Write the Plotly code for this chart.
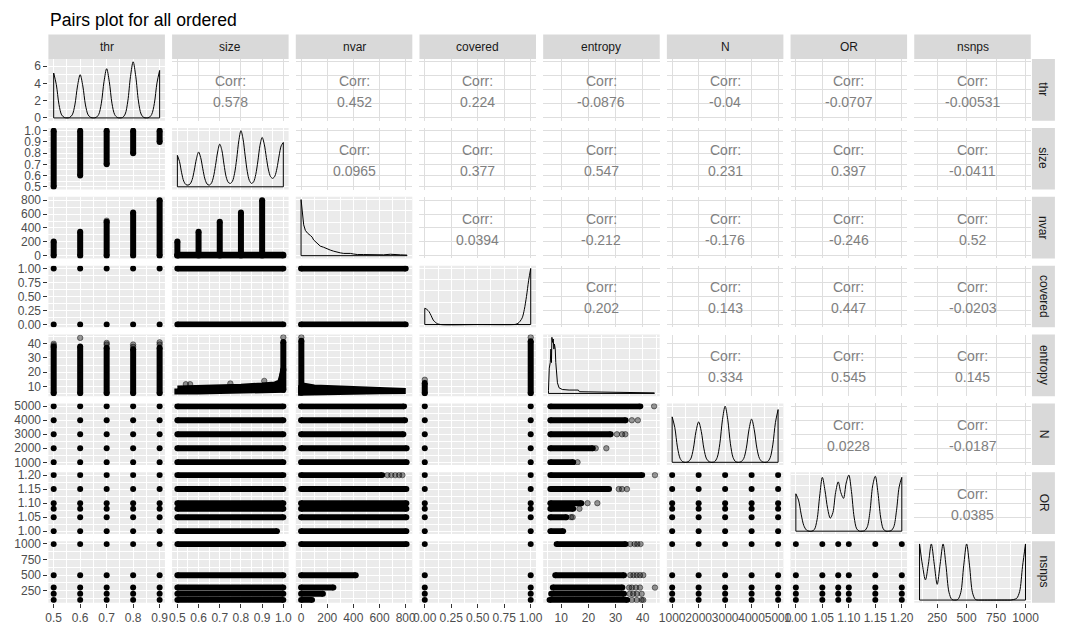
import plotly.graph_objects as go

W, H = 1071, 634
FONT = "Liberation Sans, Arial, sans-serif"

VARS = ["thr", "size", "nvar", "covered", "entropy", "N", "OR", "nsnps"]

# ---------------- discrete levels ----------------
thr_vals = [0.5, 0.6, 0.7, 0.8, 0.9]
covered_vals = [0, 1]
N_vals = [1000, 2000, 3000, 4000, 5000]
OR_vals = [1.00, 1.05, 1.08, 1.10, 1.15, 1.20]
nsnps_vals = [100, 200, 300, 500, 1000]

data_min = [0.5, 0.5, 0, 0, 5.3, 1000, 1.0, 100]
data_max = [0.9, 1.0, 810, 1, 44.3, 5000, 1.2, 1000]

major_ticks = [
    [0.5, 0.6, 0.7, 0.8, 0.9],
    [0.5, 0.6, 0.7, 0.8, 0.9, 1.0],
    [0, 200, 400, 600, 800],
    [0, 0.25, 0.5, 0.75, 1.0],
    [10, 20, 30, 40],
    [1000, 2000, 3000, 4000, 5000],
    [1.0, 1.05, 1.1, 1.15, 1.2],
    [250, 500, 750, 1000],
]
tick_labels = [
    ["0.5", "0.6", "0.7", "0.8", "0.9"],
    ["0.5", "0.6", "0.7", "0.8", "0.9", "1.0"],
    ["0", "200", "400", "600", "800"],
    ["0.00", "0.25", "0.50", "0.75", "1.00"],
    ["10", "20", "30", "40"],
    ["1000", "2000", "3000", "4000", "5000"],
    ["1.00", "1.05", "1.10", "1.15", "1.20"],
    ["250", "500", "750", "1000"],
]
minor_ticks = [
    [0.55, 0.65, 0.75, 0.85],
    [0.55, 0.65, 0.75, 0.85, 0.95],
    [100, 300, 500, 700],
    [0.125, 0.375, 0.625, 0.875],
    [5, 15, 25, 35, 45],
    [1500, 2500, 3500, 4500],
    [1.025, 1.075, 1.125, 1.175],
    [125, 375, 625, 875],
]

corr_rows = [
    ["0.578", "0.452", "0.224", "-0.0876", "-0.04", "-0.0707", "-0.00531"],
    ["0.0965", "0.377", "0.547", "0.231", "0.397", "-0.0411"],
    ["0.0394", "-0.212", "-0.176", "-0.246", "0.52"],
    ["0.202", "0.143", "0.447", "-0.0203"],
    ["0.334", "0.545", "0.145"],
    ["0.0228", "-0.0187"],
    ["0.0385"],
]

# ---------------- densities (diagonal) ----------------
thr_dens_x = [0.50, 0.51, 0.52, 0.53, 0.54, 0.55, 0.56, 0.57, 0.58, 0.59, 0.60, 0.61, 0.62, 0.63,
              0.64, 0.65, 0.66, 0.67, 0.68, 0.69, 0.70, 0.71, 0.72, 0.73, 0.74, 0.75, 0.76, 0.77,
              0.78, 0.79, 0.80, 0.81, 0.82, 0.83, 0.84, 0.85, 0.86, 0.87, 0.88, 0.89, 0.90]
thr_dens_y = [5.2, 3.85, 1.55, 0.35, 0.05, 0.0, 0.05, 0.35, 1.5, 3.7, 5.0, 3.7, 1.5, 0.35,
              0.05, 0.0, 0.05, 0.4, 1.7, 4.2, 5.7, 4.2, 1.7, 0.4, 0.05, 0.0, 0.05, 0.45,
              1.95, 4.8, 6.5, 4.8, 1.95, 0.45, 0.05, 0.0, 0.05, 0.4, 1.65, 4.05, 5.5]

size_dens_x = [0.50, 0.51, 0.52, 0.53, 0.54, 0.55, 0.56, 0.57, 0.58, 0.59,
               0.60, 0.61, 0.62, 0.63, 0.64, 0.65, 0.66, 0.67, 0.68, 0.69,
               0.70, 0.71, 0.72, 0.73, 0.74, 0.75, 0.76, 0.77, 0.78, 0.79,
               0.80, 0.81, 0.82, 0.83, 0.84, 0.85, 0.86, 0.87, 0.88, 0.89,
               0.90, 0.91, 0.92, 0.93, 0.94, 0.95, 0.96, 0.97, 0.98, 0.99, 1.00]
size_dens_y = [0.56, 0.45, 0.25, 0.10, 0.04, 0.03, 0.05, 0.13, 0.30, 0.50,
               0.62, 0.52, 0.32, 0.14, 0.05, 0.03, 0.06, 0.17, 0.38, 0.62,
               0.76, 0.65, 0.40, 0.18, 0.08, 0.06, 0.10, 0.24, 0.50, 0.82,
               1.00, 0.85, 0.55, 0.27, 0.11, 0.06, 0.09, 0.22, 0.46, 0.74,
               0.88, 0.76, 0.52, 0.30, 0.18, 0.15, 0.19, 0.33, 0.55, 0.73, 0.79]

nvar_dens_x = [0, 5, 10, 20, 33, 50, 71, 85, 96, 110, 122, 147, 172, 198, 223, 249, 275,
               300, 326, 350, 377, 400, 430, 479, 530, 580, 630, 683, 720, 760, 810]
nvar_dens_y = [1.0, 0.85, 0.7, 0.55, 0.45, 0.40, 0.36, 0.33, 0.28, 0.25, 0.21, 0.17, 0.15,
               0.12, 0.10, 0.08, 0.06, 0.05, 0.04, 0.045, 0.04, 0.03, 0.02, 0.02, 0.015,
               0.015, 0.015, 0.025, 0.015, 0.015, 0.01]

covered_dens_x = [0, 0.02, 0.04, 0.06, 0.08, 0.10, 0.12, 0.15, 0.50, 0.84, 0.86, 0.88,
                  0.90, 0.92, 0.94, 0.96, 0.98, 1.0]
covered_dens_y = [0.29, 0.27, 0.23, 0.16, 0.08, 0.04, 0.015, 0.0, 0.0, 0.0, 0.005, 0.02,
                  0.06, 0.12, 0.27, 0.50, 0.78, 1.0]

entropy_dens_x = [5.3, 5.45, 5.6, 5.96, 6.2, 6.4, 6.57, 6.8, 7.05, 7.3, 7.5, 7.8, 8.0, 8.4,
                  8.6, 9.2, 10.4, 12.9, 15.9, 16.3, 16.7, 22.6, 30.0, 44.3]
entropy_dens_y = [0.05, 0.35, 0.45, 0.55, 0.79, 0.55, 1.0, 0.91, 0.97, 0.79, 0.88, 0.79,
                  0.55, 0.37, 0.19, 0.10, 0.07, 0.06, 0.05, 0.06, 0.03, 0.025, 0.02, 0.01]

N_dens_x = [1000, 1100, 1200, 1300, 1400, 1500, 1600, 1700, 1800, 1900, 2000, 2100, 2200,
            2300, 2400, 2500, 2600, 2700, 2800, 2900, 3000, 3100, 3200, 3300, 3400, 3500,
            3600, 3700, 3800, 3900, 4000, 4100, 4200, 4300, 4400, 4500, 4600, 4700, 4800,
            4900, 5000]
N_dens_y = [0.81, 0.62, 0.27, 0.07, 0.01, 0.0, 0.01, 0.06, 0.24, 0.55, 0.72, 0.55, 0.24,
            0.06, 0.01, 0.0, 0.01, 0.085, 0.33, 0.76, 1.0, 0.76, 0.33, 0.085, 0.01, 0.0,
            0.01, 0.065, 0.25, 0.58, 0.77, 0.58, 0.25, 0.065, 0.01, 0.0, 0.01, 0.08, 0.31,
            0.71, 0.94]

OR_dens_x = [1.000, 1.005, 1.010, 1.015, 1.020, 1.025, 1.030, 1.035, 1.040, 1.045, 1.050,
             1.055, 1.060, 1.065, 1.070, 1.075, 1.080, 1.085, 1.090, 1.095, 1.100, 1.105,
             1.110, 1.115, 1.120, 1.125, 1.130, 1.135, 1.140, 1.145, 1.150, 1.155, 1.160,
             1.165, 1.170, 1.175, 1.180, 1.185, 1.190, 1.195, 1.200]
OR_dens_y = [0.66, 0.55, 0.30, 0.10, 0.02, 0.0, 0.0, 0.03, 0.20, 0.62, 0.95,
             0.72, 0.40, 0.23, 0.33, 0.68, 0.87, 0.68, 0.58, 0.85, 0.99, 0.70,
             0.25, 0.04, 0.0, 0.0, 0.01, 0.08, 0.35, 0.80, 0.97, 0.68, 0.25,
             0.04, 0.0, 0.0, 0.01, 0.08, 0.36, 0.78, 0.95]

nsnps_dens_x = [100, 125, 150, 175, 200, 225, 250, 275, 300, 325, 350, 375, 400, 425, 450,
                475, 500, 525, 550, 575, 600, 625, 650, 675, 700, 725, 750, 775, 800, 825,
                850, 875, 900, 925, 950, 975, 1000]
nsnps_dens_y = [1.0, 0.62, 0.36, 0.64, 1.0, 0.64, 0.28, 0.64, 1.0, 0.61, 0.14, 0.01, 0.0,
                0.01, 0.13, 0.61, 1.0, 0.61, 0.13, 0.01, 0.0, 0.0, 0.0, 0.0, 0.0, 0.0, 0.0,
                0.0, 0.0, 0.0, 0.0, 0.0, 0.01, 0.03, 0.15, 0.6, 1.0]

dens = {
    "thr": (thr_dens_x, thr_dens_y, True),
    "size": (size_dens_x, size_dens_y, True),
    "nvar": (nvar_dens_x, nvar_dens_y, False),
    "covered": (covered_dens_x, covered_dens_y, True),
    "entropy": (entropy_dens_x, entropy_dens_y, False),
    "N": (N_dens_x, N_dens_y, True),
    "OR": (OR_dens_x, OR_dens_y, True),
    "nsnps": (nsnps_dens_x, nsnps_dens_y, True),
}

# ---------------- lower-panel data ----------------
size_lo_by_thr = [0.5, 0.6, 0.7, 0.8, 0.9]
size_hi_by_thr = [1.0, 1.0, 1.0, 1.0, 1.0]
nvar_hi_by_thr = [205, 345, 490, 625, 800]
nvar_gray_thr_x = [0.7]
nvar_gray_thr_y = [505]
entropy_lo_by_thr = [5.5, 5.5, 5.5, 5.5, 5.5]
entropy_hi_by_thr = [38.0, 38.0, 37.0, 36.0, 37.0]
entropy_gray_thr_x = [0.5, 0.5, 0.6, 0.7, 0.7, 0.8, 0.8, 0.9, 0.9]
entropy_gray_thr_y = [38.8, 39.8, 43.9, 39.3, 40.4, 37.7, 39.3, 39.3, 40.8]
spike_size = [0.5, 0.6, 0.7, 0.8, 0.9]
spike_nvar_hi = [205, 345, 490, 625, 800]
floor_nvar = [0, 12]
size_span = [0.5, 1.0]
se_size = [0.5, 0.6, 0.7, 0.8, 0.9, 0.96, 0.985, 0.995]
se_lo = [6.6, 6.7, 6.9, 7.1, 7.4, 7.6, 7.8, 7.8]
se_hi = [8.8, 9.0, 9.5, 10.0, 10.8, 11.5, 13.0, 18.0]
se_spike_x = 1.0
se_spike_lo = 7.8
se_spike_hi = 41.0
se_gray_x = [0.54, 0.56, 0.75, 0.91, 1.0]
se_gray_y = [11.7, 11.7, 12.2, 14.0, 44.3]
size_hi_by_OR = [0.97, 1.0, 1.0, 1.0, 1.0, 1.0]
nvar_hi_by_covered = [800, 800]
ne_nvar = [0, 50, 100, 200, 400, 600, 800]
ne_lo = [5.8, 5.9, 6.0, 6.2, 6.5, 6.8, 7.0]
ne_hi = [11.0, 10.0, 9.5, 9.0, 8.5, 8.0, 7.8]
ne_spike_x = 2
ne_spike_lo = 5.8
ne_spike_hi = 42.0
ne_gray_x = [2]
ne_gray_y = [44.3]
nvar_hi_by_N = [807, 807, 782, 795, 787]
nvar_hi_by_OR = [805, 805, 805, 805, 805, 620]
nvar_gray_OR_x = [660, 690, 720, 750, 775]
nvar_gray_OR_y = [1.20, 1.20, 1.20, 1.20, 1.20]
nvar_hi_by_nsnps = [84, 167, 247, 418, 807]
entropy_lo_by_covered = [5.5, 5.5]
entropy_hi_by_covered = [12.5, 41.5]
entropy_gray_covered = [14.8, 44.3]
entropy_lo_by_N = [6.0, 6.0, 6.0, 6.0, 6.0]
entropy_hi_by_N = [14.4, 21.6, 28.2, 33.7, 39.1]
entropy_gray_by_N = [[16.0], [22.7, 26.6], [30.5, 32.4, 33.6], [36.0, 38.2], [44.2]]
entropy_lo_by_OR = [6.0, 6.0, 6.0, 6.0, 6.0, 6.0]
entropy_hi_by_OR = [10.7, 11.9, 14.4, 17.4, 27.6, 39.8]
entropy_gray_by_OR = [[], [13.6, 14.2], [16.7], [19.7, 23.3], [31.2, 32.4, 34.2], [44.5]]
entropy_lo_by_nsnps = [5.7, 6.3, 6.9, 7.8, 8.3]
entropy_hi_by_nsnps = [34.3, 33.1, 32.5, 33.1, 33.7]
entropy_gray_by_nsnps = [[36.0, 37.8, 39.6, 40.2], [35.2, 36.5, 37.8, 39.6],
                         [35.0, 36.0, 37.5, 39.0, 44.5], [35.4, 36.6, 37.8, 39.0, 40.2],
                         [35.4, 37.0, 38.0, 39.2]]

levels = {"thr": thr_vals, "covered": covered_vals, "N": N_vals, "OR": OR_vals, "nsnps": nsnps_vals}

# ---------------- geometry (picture pixels) ----------------
col_left = [41 + k * 125.57 for k in range(8)]
col_w = 118.3
row_top = [55.7 + k * 69.76 for k in range(8)]
row_h = 62.5

def px(xp):
    return xp / W

def py(yp):
    return 1 - yp / H

def xdom(c):
    return [px(col_left[c]), px(col_left[c] + col_w)]

def ydom(r):
    return [py(row_top[r] + row_h), py(row_top[r])]

def rng(i):
    pad = 0.05 * (data_max[i] - data_min[i])
    return [data_min[i] - pad, data_max[i] + pad]

def ids(r, c):
    k = r * 8 + c + 1
    return ("x" if k == 1 else f"x{k}"), ("y" if k == 1 else f"y{k}")

traces = []
PT = 6

def add_segs(r, c, segs, color="black"):
    xa, ya = ids(r, c)
    xs, ys = [], []
    for (x0, y0, x1, y1) in segs:
        xs += [x0, x1, None]
        ys += [y0, y1, None]
    traces.append(go.Scatter(x=xs, y=ys, mode="lines+markers", xaxis=xa, yaxis=ya,
                             line=dict(color=color, width=PT), marker=dict(color=color, size=PT),
                             hoverinfo="skip", showlegend=False))

def add_dots(r, c, xs, ys):
    xa, ya = ids(r, c)
    traces.append(go.Scatter(x=xs, y=ys, mode="markers", xaxis=xa, yaxis=ya,
                             marker=dict(color="black", size=PT),
                             hoverinfo="skip", showlegend=False))

def add_gray(r, c, xs, ys):
    if not xs:
        return
    xa, ya = ids(r, c)
    traces.append(go.Scatter(x=xs, y=ys, mode="markers", xaxis=xa, yaxis=ya,
                             marker=dict(color="rgba(0,0,0,0.4)", size=PT - 0.5,
                                         line=dict(color="rgba(0,0,0,0.45)", width=1)),
                             hoverinfo="skip", showlegend=False))

def add_poly(r, c, xs, lo, hi):
    xa, ya = ids(r, c)
    pxs = list(xs) + list(xs)[::-1] + [xs[0]]
    pys = list(hi) + list(lo)[::-1] + [hi[0]]
    traces.append(go.Scatter(x=pxs, y=pys, mode="lines", fill="toself", fillcolor="black",
                             xaxis=xa, yaxis=ya, line=dict(color="black", width=PT),
                             hoverinfo="skip", showlegend=False))

def add_blank(r, c):
    xa, ya = ids(r, c)
    xr, yr = rng(c), rng(r)
    traces.append(go.Scatter(x=[sum(xr) / 2], y=[sum(yr) / 2], mode="markers", xaxis=xa, yaxis=ya,
                             marker=dict(size=1, opacity=0), hoverinfo="skip", showlegend=False))

def lower(r, c):
    xv, yv = VARS[c], VARS[r]
    key = (xv, yv)
    if key == ("thr", "size"):
        add_segs(r, c, [(t, lo, t, hi) for t, lo, hi in zip(thr_vals, size_lo_by_thr, size_hi_by_thr)])
    elif key == ("thr", "nvar"):
        add_segs(r, c, [(t, 0, t, hi) for t, hi in zip(thr_vals, nvar_hi_by_thr)])
        add_gray(r, c, nvar_gray_thr_x, nvar_gray_thr_y)
    elif key == ("thr", "entropy"):
        add_segs(r, c, [(t, lo, t, hi) for t, lo, hi in zip(thr_vals, entropy_lo_by_thr, entropy_hi_by_thr)])
        add_gray(r, c, entropy_gray_thr_x, entropy_gray_thr_y)
    elif key == ("size", "nvar"):
        segs = [(s, 0, s, hi) for s, hi in zip(spike_size, spike_nvar_hi)]
        segs += [(size_span[0], v, size_span[1], v) for v in floor_nvar]
        add_segs(r, c, segs)
    elif key == ("size", "entropy"):
        add_poly(r, c, se_size, se_lo, se_hi)
        add_segs(r, c, [(se_spike_x, se_spike_lo, se_spike_x, se_spike_hi),
                        (se_size[-1], se_hi[-1], se_spike_x, 22.0)])
        add_gray(r, c, se_gray_x, se_gray_y)
    elif xv == "size":
        his = size_hi_by_OR if yv == "OR" else [size_span[1]] * len(levels[yv])
        add_segs(r, c, [(size_span[0], v, hi, v) for v, hi in zip(levels[yv], his)])
    elif key == ("nvar", "entropy"):
        add_poly(r, c, ne_nvar, ne_lo, ne_hi)
        add_segs(r, c, [(ne_spike_x, ne_spike_lo, ne_spike_x, ne_spike_hi)])
        add_gray(r, c, ne_gray_x, ne_gray_y)
    elif xv == "nvar":
        his = {"covered": nvar_hi_by_covered, "N": nvar_hi_by_N,
               "OR": nvar_hi_by_OR, "nsnps": nvar_hi_by_nsnps}[yv]
        add_segs(r, c, [(0, v, hi, v) for v, hi in zip(levels[yv], his)])
        if yv == "OR":
            add_gray(r, c, nvar_gray_OR_x, nvar_gray_OR_y)
    elif key == ("covered", "entropy"):
        add_segs(r, c, [(v, lo, v, hi) for v, lo, hi in zip(covered_vals, entropy_lo_by_covered, entropy_hi_by_covered)])
        add_gray(r, c, covered_vals, entropy_gray_covered)
    elif xv == "entropy":
        lo_l, hi_l, gr_l = {"N": (entropy_lo_by_N, entropy_hi_by_N, entropy_gray_by_N),
                            "OR": (entropy_lo_by_OR, entropy_hi_by_OR, entropy_gray_by_OR),
                            "nsnps": (entropy_lo_by_nsnps, entropy_hi_by_nsnps, entropy_gray_by_nsnps)}[yv]
        add_segs(r, c, [(lo, v, hi, v) for v, lo, hi in zip(levels[yv], lo_l, hi_l)])
        gx, gy = [], []
        for v, g in zip(levels[yv], gr_l):
            gx += g
            gy += [v] * len(g)
        add_gray(r, c, gx, gy)
    else:
        xs, ys = [], []
        for a in levels[xv]:
            for b in levels[yv]:
                xs.append(a)
                ys.append(b)
        add_dots(r, c, xs, ys)

def diag(i):
    xs, ys, smooth = dens[VARS[i]]
    xa, ya = ids(i, i)
    line = dict(color="black", width=1)
    if smooth:
        line.update(shape="spline", smoothing=0.9)
    traces.append(go.Scatter(x=xs, y=ys, mode="lines", xaxis=xa, yaxis=ya, line=line,
                             hoverinfo="skip", showlegend=False))
    traces.append(go.Scatter(x=[xs[0], xs[0], xs[-1], xs[-1]], y=[ys[0], 0, 0, ys[-1]],
                             mode="lines", xaxis=xa, yaxis=ya, line=dict(color="black", width=1),
                             hoverinfo="skip", showlegend=False))

layout = dict(width=W, height=H, autosize=False, margin=dict(l=0, r=0, t=0, b=0, pad=0),
              paper_bgcolor="white", plot_bgcolor="rgba(0,0,0,0)", showlegend=False)
shapes, annotations = [], []
tickfont = dict(family=FONT, size=12, color="#4D4D4D")

for r in range(8):
    for c in range(8):
        k = r * 8 + c + 1
        xname = "xaxis" if k == 1 else f"xaxis{k}"
        yname = "yaxis" if k == 1 else f"yaxis{k}"
        xa, ya = ids(r, c)
        upper = c > r
        gcol = "#DEDEDE" if upper else "white"
        layout[xname] = dict(
            domain=xdom(c), anchor=ya, range=rng(c), tickmode="array",
            tickvals=major_ticks[c], ticktext=tick_labels[c], showticklabels=(r == 7),
            ticks="outside" if r == 7 else "", ticklen=4, tickwidth=1, tickcolor="#333333",
            tickangle=0, tickfont=tickfont, showgrid=True, gridcolor=gcol,
            gridwidth=1.0 if upper else 1.3, zeroline=False, showline=False, fixedrange=True,
            minor=dict(tickmode="array", tickvals=minor_ticks[c], showgrid=not upper,
                       gridcolor="white", gridwidth=0.6, ticks=""),
        )
        if r == c:
            ymax = max(dens[VARS[r]][1])
            yr = [-0.05 * ymax, 1.05 * ymax]
            if r == 0:
                yt, ytl, ym = [0, 2, 4, 6], ["0", "2", "4", "6"], [1, 3, 5]
            else:
                yt, ytl, ym = [0, 0.4, 0.8], ["0", "0.4", "0.8"], [0.2, 0.6, 1.0]
        else:
            yr, yt, ytl, ym = rng(r), major_ticks[r], tick_labels[r], minor_ticks[r]
        layout[yname] = dict(
            domain=ydom(r), anchor=xa, range=yr, tickmode="array", tickvals=yt, ticktext=ytl,
            showticklabels=(c == 0), ticks="outside" if c == 0 else "", ticklen=4, tickwidth=1,
            tickcolor="#333333", tickfont=tickfont, showgrid=True, gridcolor=gcol,
            gridwidth=1.0 if upper else 1.3, zeroline=False, showline=False, fixedrange=True,
            minor=dict(tickmode="array", tickvals=ym, showgrid=not upper,
                       gridcolor="white", gridwidth=0.6, ticks=""),
        )
        if not upper:
            shapes.append(dict(type="rect", xref="paper", yref="paper", layer="below",
                               x0=xdom(c)[0], x1=xdom(c)[1], y0=ydom(r)[0], y1=ydom(r)[1],
                               fillcolor="#EBEBEB", line=dict(width=0)))
        if r == c:
            diag(r)
        elif r > c:
            lower(r, c)
        else:
            add_blank(r, c)
            val = corr_rows[r][c - r - 1]
            for txt, shift in (("Corr:", 9), (val, -12)):
                annotations.append(dict(text=txt, xref=f"{xa} domain", yref=f"{ya} domain",
                                        x=0.5, y=0.5, yshift=shift, showarrow=False,
                                        xanchor="center", yanchor="middle",
                                        font=dict(family=FONT, size=14, color="#808080")))

# strips
for c in range(8):
    shapes.append(dict(type="rect", xref="paper", yref="paper", layer="below",
                       x0=px(col_left[c]), x1=px(col_left[c] + col_w),
                       y0=py(55.7), y1=py(31), fillcolor="#D9D9D9", line=dict(width=0)))
    annotations.append(dict(text=VARS[c], xref="paper", yref="paper",
                            x=px(col_left[c] + col_w / 2), y=py(43.3), showarrow=False,
                            xanchor="center", yanchor="middle",
                            font=dict(family=FONT, size=12, color="#1A1A1A")))
for r in range(8):
    shapes.append(dict(type="rect", xref="paper", yref="paper", layer="below",
                       x0=px(1039.5), x1=px(1062.8),
                       y0=ydom(r)[0], y1=ydom(r)[1], fillcolor="#D9D9D9", line=dict(width=0)))
    annotations.append(dict(text=VARS[r], xref="paper", yref="paper",
                            x=px(1051.2), y=(ydom(r)[0] + ydom(r)[1]) / 2, showarrow=False,
                            textangle=90, xanchor="center", yanchor="middle",
                            font=dict(family=FONT, size=12, color="#1A1A1A")))

annotations.append(dict(text="Pairs plot for all ordered", xref="paper", yref="paper",
                        x=px(41), y=py(16), showarrow=False, xanchor="left", yanchor="middle",
                        font=dict(family=FONT, size=17.6, color="black")))

layout["shapes"] = shapes
layout["annotations"] = annotations

fig = go.Figure(data=traces, layout=layout)
fig.write_html("out.html")
